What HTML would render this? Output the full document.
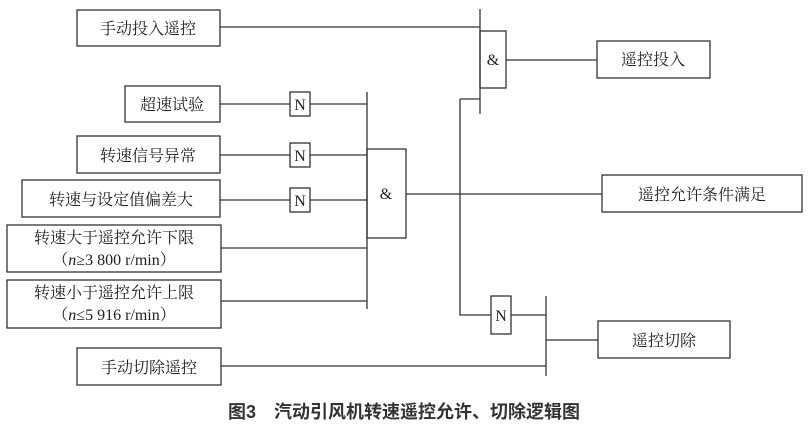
<!DOCTYPE html>
<html><head><meta charset="utf-8"><style>
body{margin:0;background:#fff}
text{font-family:"Liberation Serif","Noto Serif CJK SC",serif;font-size:16px;fill:#222}
</style></head><body>
<svg width="812" height="425" viewBox="0 0 812 425" xmlns="http://www.w3.org/2000/svg">
<g fill="#fff" stroke="#333" stroke-width="1.3">
<rect x="77" y="10" width="143" height="36"/>
<rect x="125" y="86" width="95" height="36"/>
<rect x="77" y="136" width="143" height="37"/>
<rect x="22" y="180" width="198" height="37"/>
<rect x="7" y="225" width="214" height="47"/>
<rect x="7" y="280" width="214" height="48"/>
<rect x="77" y="348" width="144" height="37"/>
<rect x="597" y="41" width="113" height="37"/>
<rect x="602" y="175" width="200" height="37"/>
<rect x="598" y="321" width="132" height="37"/>
<rect x="290" y="92" width="20" height="24"/>
<rect x="290" y="143" width="20" height="24"/>
<rect x="290" y="188" width="20" height="24"/>
<rect x="491" y="296" width="20" height="38"/>
<rect x="367" y="149" width="39" height="89"/>
<rect x="480" y="31" width="26" height="57"/>
</g>
<g stroke="#333" stroke-width="1.3" fill="none">
<path d="M220 27H480M480 9V114M506 60H597M460 99H480M460 99V315H491"/>
<path d="M220 104H290M310 104H367M220 155H290M310 155H367M220 200H290M310 200H367M367 92V309M221 248H367M221 301H367"/>
<path d="M406 194H602M511 315H546M546 296V376M546 340H598M221 366H546"/>
</g>
<g text-anchor="middle">
<text x="148" y="34">手动投入遥控</text>
<text x="172" y="110">超速试验</text>
<text x="148" y="161">转速信号异常</text>
<text x="121" y="205">转速与设定值偏差大</text>
<text x="114" y="243">转速大于遥控允许下限</text>
<text x="114" y="265">（<tspan font-style="italic">n</tspan>≥3 800 r/min）</text>
<text x="114" y="298">转速小于遥控允许上限</text>
<text x="114" y="320">（<tspan font-style="italic">n</tspan>≤5 916 r/min）</text>
<text x="149" y="373">手动切除遥控</text>
<text x="653" y="65">遥控投入</text>
<text x="702" y="200">遥控允许条件满足</text>
<text x="664" y="346">遥控切除</text>
<text x="300" y="110">N</text>
<text x="300" y="161">N</text>
<text x="300" y="206">N</text>
<text x="501" y="321">N</text>
<text x="386" y="199">&amp;</text>
<text x="493" y="65">&amp;</text>
<text x="404" y="418" style="font-family:'Liberation Sans','Noto Sans CJK SC',sans-serif;font-size:18px;font-weight:bold;fill:#333">图3　汽动引风机转速遥控允许、切除逻辑图</text>
</g>
</svg>
</body></html>
